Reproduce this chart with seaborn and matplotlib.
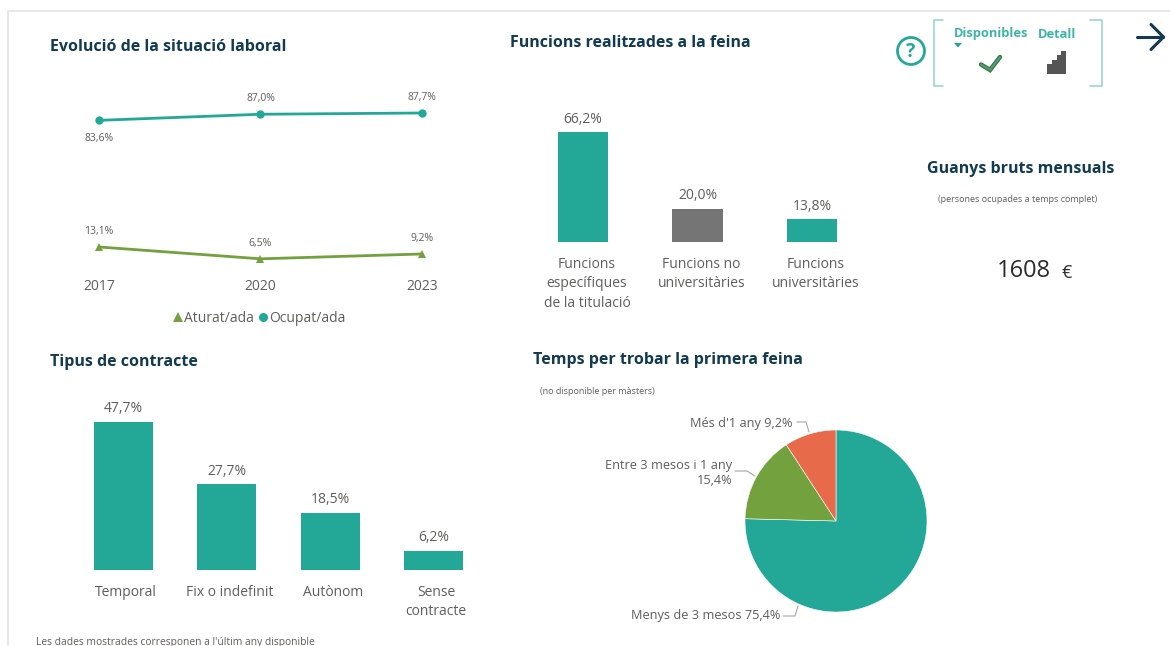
import matplotlib.pyplot as plt
import pandas as pd
import seaborn as sns
from matplotlib.lines import Line2D
from matplotlib.patches import Rectangle
from matplotlib.transforms import ScaledTranslation

W, H = 1170, 646

# Data
years = [2017, 2020, 2023]
ocupat = [83.6, 87.0, 87.7]
aturat = [13.1, 6.5, 9.2]
funcions_labels = ["Funcions\nespecífiques\nde la titulació", "Funcions no\nuniversitàries", "Funcions\nuniversitàries"]
funcions_values = [66.2, 20.0, 13.8]
contracte_labels = ["Temporal", "Fix o indefinit", "Autònom", "Sense\ncontracte"]
contracte_values = [47.7, 27.7, 18.5, 6.2]
temps_values = [75.4, 15.4, 9.2]

TEAL = "#23A898"
GREEN = "#72A13E"
ORANGE = "#E76B4B"
GREY_BAR = "#757575"
TEXT = "#605E5C"
NAVY = "#123A50"

sns.set_theme(style="white")
plt.rcParams["font.family"] = ["Open Sans", "DejaVu Sans"]


def pct(v):
    return f"{v:.1f}".replace(".", ",") + "%"


def axes_px(fig, left, top, right, bottom):
    # axes rectangle given in picture pixels
    return fig.add_axes([left / W, 1 - bottom / H, (right - left) / W, (bottom - top) / H])


fig = plt.figure(figsize=(W / 100, H / 100), dpi=100, facecolor="white")

# === 1. Evolució ===
ax = axes_px(fig, 50, 90.9, 470, 270.5)
lines = pd.DataFrame(
    {
        "any": years * 2,
        "valor": aturat + ocupat,
        "grup": ["Aturat/ada"] * 3 + ["Ocupat/ada"] * 3,
    }
)
_ = sns.lineplot(
    data=lines,
    x="any",
    y="valor",
    hue="grup",
    style="grup",
    palette={"Aturat/ada": GREEN, "Ocupat/ada": TEAL},
    markers={"Aturat/ada": "^", "Ocupat/ada": "o"},
    dashes=False,
    markersize=6,
    markeredgewidth=0,
    linewidth=2.0,
    legend=False,
    ax=ax,
)
ax.set_xlim(2017 - 49 / 53.83, 2017 + 371 / 53.83)
ax.set_ylim(0, 100)
ax.set_xticks(years)
ax.set_yticks([])
ax.set_xlabel("")
ax.set_ylabel("")
ax.tick_params(axis="x", length=0, pad=6, labelsize=10, labelcolor=TEXT)
sns.despine(ax=ax, left=True, bottom=True)
for yr, v in zip(years, aturat):
    ax.annotate(pct(v), (yr, v), xytext=(0, 10.8), textcoords="offset points", ha="center", va="center", fontsize=7.5, color=TEXT)
for i, (yr, v) in enumerate(zip(years, ocupat)):
    off = -13.2 if i == 0 else 11.3
    ax.annotate(pct(v), (yr, v), xytext=(0, off), textcoords="offset points", ha="center", va="center", fontsize=7.5, color=TEXT)
handles = [
    Line2D([], [], linestyle="none", marker="^", markersize=6.5, color=GREEN, markeredgewidth=0),
    Line2D([], [], linestyle="none", marker="o", markersize=6.5, color=TEAL, markeredgewidth=0),
]
_ = fig.legend(
    handles,
    ["Aturat/ada", "Ocupat/ada"],
    loc="center",
    bbox_to_anchor=(259.5 / W, 1 - 318 / H),
    ncols=2,
    frameon=False,
    handlelength=0.7,
    handletextpad=0.1,
    columnspacing=0.3,
    prop={"size": 10},
    labelcolor=TEXT,
)

# === 2. Funcions realitzades ===
ax = axes_px(fig, 525.75, 117.5, 869.25, 242)
funcions = pd.DataFrame({"funcio": funcions_labels, "valor": funcions_values})
_ = sns.barplot(
    data=funcions,
    x="funcio",
    y="valor",
    hue="funcio",
    palette=[TEAL, GREY_BAR, TEAL],
    width=0.437,
    saturation=1,
    linewidth=0,
    legend=False,
    ax=ax,
)
ax.set_ylim(0, 75)

# === 3. Tipus de contracte ===
ax2 = axes_px(fig, 71.8, 399.4, 485.4, 570)
contracte = pd.DataFrame({"tipus": contracte_labels, "valor": contracte_values})
_ = sns.barplot(data=contracte, x="tipus", y="valor", color=TEAL, width=0.57, saturation=1, linewidth=0, ax=ax2)
ax2.set_ylim(0, 55)

for a, dx in ((ax, 4), (ax2, 2.5)):
    a.set_xlabel("")
    a.set_ylabel("")
    a.set_yticks([])
    a.tick_params(axis="x", length=0, pad=10.5, labelsize=10, labelcolor=TEXT)
    sns.despine(ax=a, left=True, bottom=True)
    # the category labels sit a little right of the bars in the original
    for lab in a.get_xticklabels():
        lab.set_linespacing(1.42)
        lab.set_transform(lab.get_transform() + ScaledTranslation(dx / 100, 0, fig.dpi_scale_trans))
    for c in a.containers:
        _ = a.bar_label(c, labels=[pct(b.get_height()) for b in c], padding=4, fontsize=10, color=TEXT)

# === 4. Temps per trobar feina ===
ax = axes_px(fig, 745, 430, 927, 612)
_ = ax.pie(
    temps_values,
    colors=[TEAL, GREEN, ORANGE],
    startangle=90,
    counterclock=False,
    radius=1,
    wedgeprops={"edgecolor": "white", "linewidth": 0.4},
)
ax.set_xlim(-1, 1)
ax.set_ylim(-1, 1)

# === Everything else, in picture pixels ===
ov = fig.add_axes([0, 0, 1, 1], zorder=5)
ov.set_xlim(0, W)
ov.set_ylim(H, 0)
ov.axis("off")
ov.patch.set_alpha(0)

# frame of the page
ov.plot([1170, 7.5, 7.5], [10.5, 10.5, 646], color="#E3E3E3", lw=1.2)

for txt, x, y, ha in [
    ("Evolució de la situació laboral", 50, 47, "left"),
    ("Funcions realitzades a la feina", 510, 43, "left"),
    ("Guanys bruts mensuals", 1021, 169, "center"),
    ("Tipus de contracte", 50, 362, "left"),
    ("Temps per trobar la primera feina", 533, 360, "left"),
]:
    ov.text(x, y, txt, ha=ha, va="center", fontsize=11.5, fontweight="bold", color=NAVY)

ov.text(1017.5, 200, "(persones ocupades a temps complet)", ha="center", va="center", fontsize=6.5, color=TEXT)
ov.text(540, 391, "(no disponible per màsters)", ha="left", va="center", fontsize=6.5, color=TEXT)
ov.text(36, 642, "Les dades mostrades corresponen a l'últim any disponible", ha="left", va="center", fontsize=7.35, color=TEXT)
ov.text(1024, 271, "1608", ha="center", va="center", fontsize=17, color="#2B2B2B")
ov.text(1067, 273, "€", ha="center", va="center", fontsize=13, color="#2B2B2B")

# pie labels and leader lines
ov.text(792, 424, "Més d'1 any 9,2%", ha="right", va="center", fontsize=9.2, color=TEXT)
ov.text(732, 473, "Entre 3 mesos i 1 any\n15,4%", ha="right", va="center", fontsize=9.2, color=TEXT, linespacing=1.3)
ov.text(780, 616, "Menys de 3 mesos 75,4%", ha="right", va="center", fontsize=9.2, color=TEXT)
for xs, ys in [
    ([797, 806, 809], [422, 422, 432]),
    ([735, 747, 755], [471, 471, 476]),
    ([783, 795, 798], [616, 616, 606]),
]:
    ov.plot(xs, ys, color="#A6A6A6", lw=0.8)

# help button
ov.add_patch(plt.Circle((911, 51), 13.5, fill=False, ec=TEAL, lw=2))
ov.text(911, 52, "?", ha="center", va="center", fontsize=14, fontweight="bold", color=TEAL)

# bracket with the two toggles
ov.plot([943, 933.5, 933.5, 943], [19.5, 19.5, 85.5, 85.5], color="#8FD3CA", lw=1.1)
ov.plot([1090, 1101.5, 1101.5, 1090], [19.5, 19.5, 85.5, 85.5], color="#8FD3CA", lw=1.1)
ov.text(991, 34, "Disponibles", ha="center", va="center", fontsize=9.3, fontweight="bold", color="#3DB5A6")
ov.text(1057.5, 34, "Detall", ha="center", va="center", fontsize=9.3, fontweight="bold", color="#3DB5A6")
ov.fill([954, 962, 958], [43, 43, 47.5], color=TEAL, lw=0)
ov.plot([981, 990, 1000], [64.5, 70, 57], color="#3F6F50", lw=3.2, solid_joinstyle="miter")
ov.plot([981, 990, 1000], [64.5, 70, 57], color="#4FA36B", lw=1.4, solid_joinstyle="miter")
for x0, top in [(1047, 63.5), (1051.8, 59.5), (1056.6, 55), (1061.4, 51)]:
    ov.add_patch(Rectangle((x0, top), 4.8, 73.5 - top, color="#555555", lw=0))

# next arrow
ov.plot([1137, 1163], [37, 37], color=NAVY, lw=2.2)
ov.plot([1151, 1163.5, 1151], [24.5, 37, 49.5], color=NAVY, lw=2.2)

fig.savefig("out.png", dpi=100)
